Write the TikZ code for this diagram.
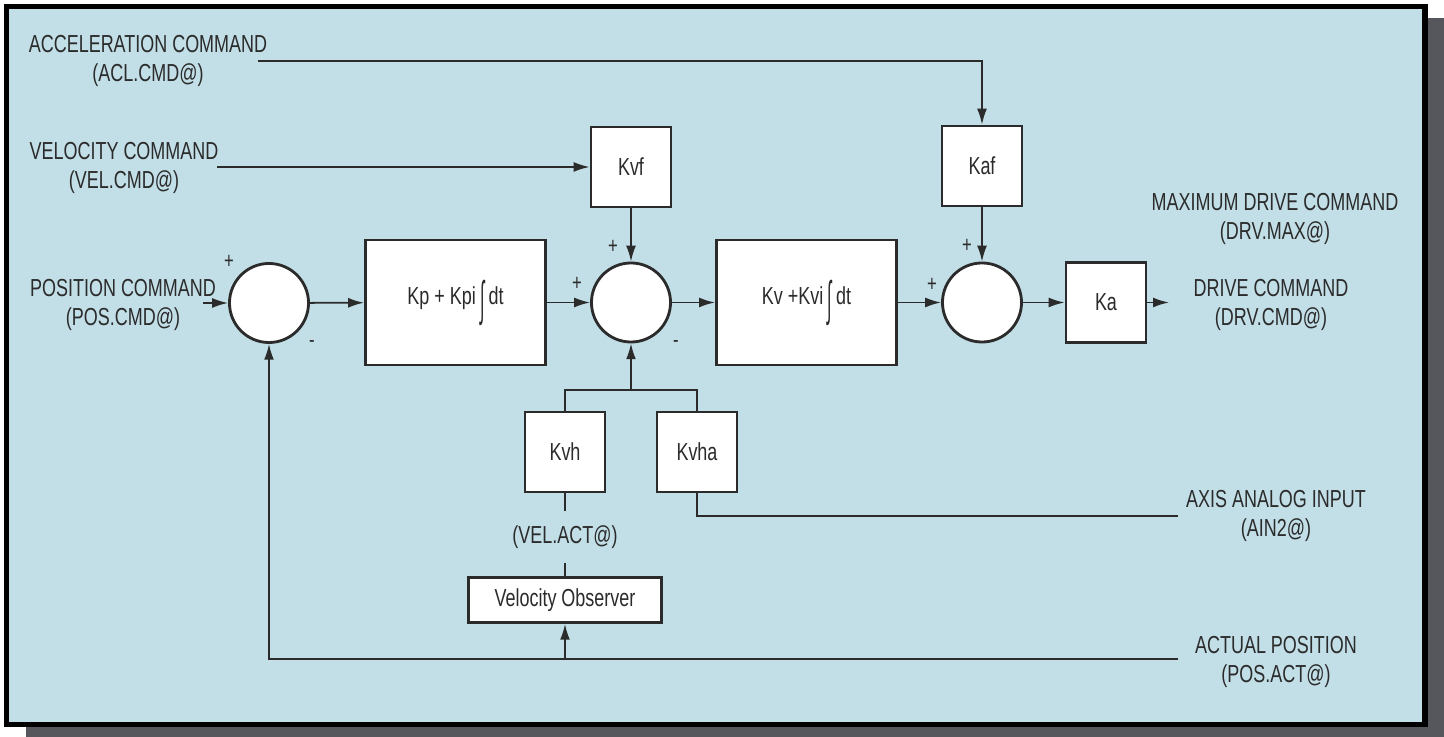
\documentclass[tikz,border=0pt]{standalone}
\usepackage{fontspec}
\setmainfont{Liberation Sans}[FakeStretch=0.73]
\usepackage{xcolor}
\usetikzlibrary{arrows.meta, positioning}
\definecolor{panelblue}{HTML}{C2DEE7}
\definecolor{shadowgray}{HTML}{56575D}
\definecolor{inkgray}{HTML}{2B2B2B}
\newcommand{\integ}{\raisebox{-0.8ex}{\scalebox{0.9}[1.95]{∫}}}
\tikzset{
    servo/.style={
        font=\fontsize{7}{8.5}\selectfont,
        >={Latex[length=4.5pt,width=2.8pt]},
        x=0.01cm, y=-0.01cm,
        gain/.style={draw=inkgray, line width=0.8pt, fill=white, text=inkgray, minimum width=0.8cm, minimum height=0.8cm, inner sep=0pt},
        ctrl/.style={gain, minimum width=1.8cm, minimum height=1.25cm},
        sumj/.style={circle, draw=inkgray, line width=0.8pt, fill=white, minimum size=0.79cm, inner sep=0pt},
        sigtext/.style={align=center, text=inkgray, inner sep=0pt},
        sign/.style={text=inkgray, inner sep=0pt, font=\fontsize{6.5}{7}\selectfont},
        wire/.style={draw=inkgray, line width=0.5pt},
        signal/.style={wire, ->}
    }
}

\begin{document}
\begin{tikzpicture}[servo]
        \useasboundingbox (0,0) rectangle (1444,737);
        % Panel with shadow
        \fill[shadowgray] (26,18) rectangle (1444,737);
        \draw[line width=1.45pt, fill=panelblue] (6.5,6.5) rectangle (1425,724.5);

        % Summing junctions and gain blocks
        \node[sumj] (sa) at (269,303) {};
        \node[ctrl] (kp) at (455.5,302.5) {Kp + Kpi\,\integ\,dt};
        \node[sumj] (sb) at (631,302.5) {};
        \node[ctrl] (kv) at (806.5,302.5) {Kv +Kvi\,\integ\,dt};
        \node[sumj] (sc) at (982,302.5) {};
        \node[gain] (ka) at (1106,302.5) {Ka};
        \node[gain] (kvf) at (631,167) {Kvf};
        \node[gain] (kaf) at (982,166) {Kaf};
        \node[gain] (kvh) at (565,452) {Kvh};
        \node[gain] (kvha) at (697,452) {Kvha};
        \node[gain, minimum width=1.93cm, minimum height=0.45cm] (obs) at (565,600) {Velocity Observer};

        % Signal names
        \node[sigtext] (acl) at (148,61) {ACCELERATION COMMAND\\(ACL.CMD@)};
        \node[sigtext] (vcmd) at (124,168) {VELOCITY COMMAND\\(VEL.CMD@)};
        \node[sigtext] (pcmd) at (123,305) {POSITION COMMAND\\(POS.CMD@)};
        \node[sigtext] (dmax) at (1275,219) {MAXIMUM DRIVE COMMAND\\(DRV.MAX@)};
        \node[sigtext] (dcmd) at (1271,305) {DRIVE COMMAND\\(DRV.CMD@)};
        \node[sigtext] (ain) at (1276,516) {AXIS ANALOG INPUT\\(AIN2@)};
        \node[sigtext] (pact) at (1276,662) {ACTUAL POSITION\\(POS.ACT@)};
        \node[sigtext, inner ysep=4pt] (vact) at (565,537) {(VEL.ACT@)};

        % Line ends
        \coordinate (aclin) at (258,61);
        \coordinate (vin) at (217,167);
        \coordinate (pin) at (203,303);
        \coordinate (dout) at (1169,302.5);
        \coordinate (ainin) at (1178,516);
        \coordinate (pactin) at (1178,659);
        \coordinate (hb) at (631,390);

        % Forward path
        \draw[signal] (pin) -- (sa);
        \draw[signal] (sa) -- (kp);
        \draw[signal] (kp) -- (sb);
        \draw[signal] (sb) -- (kv);
        \draw[signal] (kv) -- (sc);
        \draw[signal] (sc) -- (ka);
        \draw[signal] (ka) -- (dout);

        % Feedforward
        \draw[signal] (vin) -- (kvf);
        \draw[signal] (kvf) -- (sb);
        \draw[signal] (aclin) -| (kaf);
        \draw[signal] (kaf) -- (sc);

        % Velocity feedback
        \draw[wire] (kvh) |- (hb) -| (kvha);
        \draw[signal] (hb) -- (sb);
        \draw[wire] (kvha) |- (ainin);
        \draw[wire] (obs) -- (vact);
        \draw[wire] (vact) -- (kvh);

        % Position feedback
        \draw[signal] (pactin) -| (sa);
        \draw[signal] (obs |- pactin) -- (obs);

        % Signs
        \node[sign] at (229,262) {+};
        \node[sign] at (312,344) {-};
        \node[sign] at (577,284) {+};
        \node[sign] at (613,247) {+};
        \node[sign] at (676,344) {-};
        \node[sign] at (932,285) {+};
        \node[sign] at (967,246) {+};
    \end{tikzpicture}
\end{document}
